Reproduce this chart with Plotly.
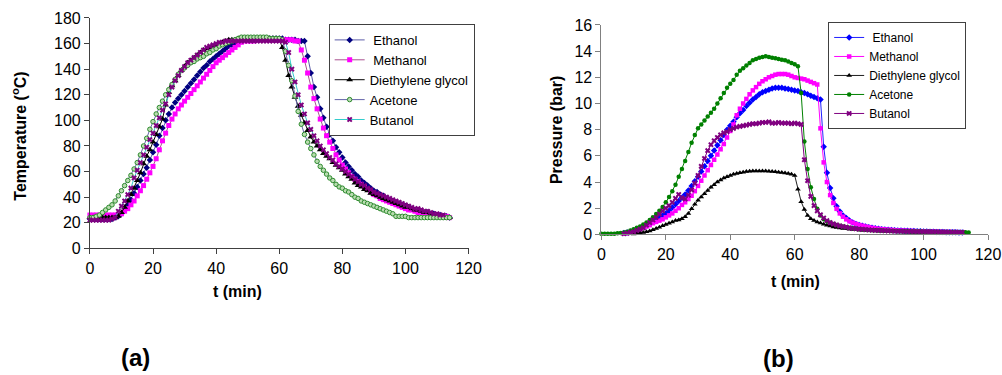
import plotly.graph_objects as go

# ---------------- Data: panel (a) Temperature (°C), sampled every minute ----------------
T_ETHANOL_T0 = 0
T_ETHANOL = [23, 23, 23, 23, 23, 23, 23, 23, 24,
             25, 27, 30, 34, 38, 43, 48, 53, 58, 63, 69,
             75, 81, 88, 94, 100, 105, 110, 114, 117, 120,
             123, 126, 129, 132, 135, 138, 141, 143, 146, 148,
             150, 152, 154, 156, 158, 159, 160, 161, 162, 163,
             163, 164, 164, 164, 164, 164, 164, 164, 164, 164,
             164, 164, 163, 163, 163, 163, 162, 162, 162,
             150, 137, 126, 118, 109, 102, 95, 89, 84, 79, 75,
             71, 67, 64, 61, 58, 56, 53, 51, 49, 47,
             45, 44, 42, 41, 39, 38, 37, 36, 35, 34,
             33, 32, 31, 30, 30, 29, 28, 28, 27, 27, 26, 26, 25, 25, 24]

T_METHANOL_T0 = 0
T_METHANOL = [26, 26, 26, 26, 26, 26, 26, 26, 26, 26,
              27, 29, 31, 34, 37, 41, 45, 49, 54, 59,
              64, 70, 77, 84, 90, 96, 101, 105, 109, 112,
              115, 118, 121, 124, 127, 130, 133, 136, 139, 142,
              145, 147, 149, 151, 153, 155, 157, 159, 161, 162,
              162, 162, 162, 163, 163, 163, 163, 163, 163, 163,
              163, 163, 163, 163, 163, 162, 162,
              155, 147, 137, 126, 117, 109, 101, 94, 88, 83,
              78, 73, 69, 65, 62, 59, 56, 54, 52, 50,
              48, 46, 44, 42, 41, 39, 38, 37, 36, 35,
              34, 33, 32, 31, 30, 30, 29, 28, 28, 27, 27, 26, 26, 26, 25, 25, 25, 24]

T_DEG_T0 = 0
T_DEG = [24, 24, 24, 24, 24, 24, 24, 24, 24,
         25, 28, 32, 37, 42, 47, 53, 59, 66, 72, 77,
         83, 89, 95, 101, 112, 122, 127, 131, 135, 139,
         142, 145, 147, 149, 151, 153, 155, 156, 157, 158,
         159, 160, 161, 162, 163, 163, 163, 164, 164, 164,
         164, 164, 164, 164, 164, 164, 164, 164, 164, 164,
         163,
         157, 147, 135, 126, 118, 111, 104, 98, 92, 87,
         83, 80, 77, 74, 72, 70, 67, 65, 63, 61,
         58, 56, 54, 51, 49, 48, 46, 45, 43, 42,
         41, 40, 39, 38, 37, 36, 35, 34, 33, 32,
         32, 31, 30, 30, 29, 28, 28, 27, 26, 26, 25, 25, 24, 24]

T_ACETONE_T0 = 0
T_ACETONE = [24, 24, 25, 26, 28, 30, 32, 34, 37, 41,
             45, 49, 53, 57, 62, 67, 73, 80, 86, 93,
             99, 105, 110, 115, 120,
             124, 128, 132, 136, 139, 141, 143, 145, 146, 148,
             149, 150, 152, 153, 155, 156, 158, 159, 160, 161,
             162, 163, 164, 165, 165, 165, 165, 165, 165, 165,
             165, 165, 164, 164, 164, 164, 163,
             154, 143, 131, 119, 107, 97, 89, 83, 78, 73,
             68, 64, 61, 58, 55, 53, 50, 48, 47, 45,
             44, 42, 40, 39, 37, 36, 35, 34, 33, 32,
             31, 30, 29, 28, 27, 25, 25, 25, 25, 24,
             24, 24, 24, 24, 24, 24, 24, 24, 24, 24, 24, 24, 24]

T_BUTANOL_T0 = 0
T_BUTANOL = [22, 22, 22, 22, 22, 22, 22, 23,
             24, 29, 33, 37, 42, 47, 55, 61, 67, 73,
             79, 85, 90, 96, 102, 108, 113, 120, 126, 131,
             135, 139, 142, 145, 147, 149, 151, 153, 155, 157,
             158, 159, 160, 161, 161, 162, 162, 162, 162, 162,
             162, 162, 162, 162, 162, 162, 162, 162, 162, 162, 162, 162, 162, 162,
             161,
             153, 140, 130, 120, 112, 105, 98, 93, 88, 84,
             80, 77, 74, 71, 69, 66, 64, 62, 60, 58,
             56, 54, 52, 50, 49, 47, 46, 44, 43, 42,
             41, 40, 39, 38, 37, 36, 35, 34, 33, 32, 31, 31, 30, 29, 29, 28, 27, 27, 26, 26]

# ---------------- Data: panel (b) Pressure (bar), sampled every minute ----------------
P_ETHANOL_T0 = 7
P_ETHANOL = [0.10, 0.15, 0.20, 0.30, 0.40, 0.50, 0.60, 0.70, 0.85, 1.00,
             1.15, 1.30, 1.45, 1.60, 1.80, 2.05, 2.30, 2.55, 2.80, 3.05,
             3.35, 3.70, 4.05, 4.40, 4.80, 5.20, 5.60, 6.00, 6.40, 6.80,
             7.20, 7.60, 8.00, 8.30, 8.60, 8.95, 9.25, 9.50, 9.80, 10.05,
             10.30, 10.50, 10.70, 10.85, 10.95, 11.05, 11.15, 11.20, 11.20, 11.20,
             11.15, 11.10, 11.05, 11.00, 10.95, 10.85, 10.80, 10.70, 10.60, 10.50, 10.40, 10.30,
             6.70, 4.70, 3.55, 2.75, 2.15, 1.75, 1.45, 1.25, 1.05, 0.90,
             0.80, 0.72, 0.65, 0.60, 0.55, 0.50, 0.46, 0.43, 0.40, 0.38,
             0.36, 0.34, 0.32, 0.30, 0.29, 0.28, 0.27, 0.26, 0.25, 0.24,
             0.23, 0.22, 0.21, 0.20, 0.20, 0.19, 0.18, 0.18, 0.17, 0.17, 0.16, 0.16, 0.15, 0.15]

P_METHANOL_T0 = 7
P_METHANOL = [0.05, 0.10, 0.15, 0.20, 0.30, 0.40, 0.50, 0.60, 0.70, 0.85,
              0.95, 1.05, 1.15, 1.30, 1.45, 1.60, 1.80, 2.00, 2.25, 2.45,
              2.70, 2.95, 3.30, 3.70, 4.10, 4.50, 4.90, 5.30, 5.70, 6.10,
              6.50, 6.90, 7.40, 7.90, 8.40, 9.10, 9.60, 10.00, 10.35, 10.70,
              11.00, 11.25, 11.50, 11.70, 11.85, 12.00, 12.10, 12.20, 12.25, 12.25,
              12.25, 12.20, 12.10, 12.00, 11.95, 11.90, 11.85, 11.75, 11.65, 11.55, 11.45,
              8.10, 5.50, 4.00, 3.00, 2.40, 1.95, 1.60, 1.35, 1.15, 1.00,
              0.90, 0.80, 0.72, 0.66, 0.60, 0.55, 0.50, 0.46, 0.43, 0.40,
              0.38, 0.36, 0.34, 0.32, 0.30, 0.29, 0.28, 0.27, 0.26, 0.25,
              0.24, 0.23, 0.22, 0.21, 0.20, 0.20, 0.19, 0.18, 0.18, 0.17, 0.17, 0.16, 0.16, 0.15, 0.15]

P_DEG_T0 = 10
P_DEG = [0.02, 0.05, 0.10, 0.15, 0.20, 0.25, 0.35, 0.45, 0.55, 0.65,
         0.75, 0.85, 0.95, 1.05, 1.10, 1.20, 1.35, 1.60, 1.95, 2.30,
         2.60, 2.85, 3.10, 3.35, 3.60, 3.80, 4.00, 4.15, 4.30, 4.40,
         4.50, 4.60, 4.65, 4.70, 4.75, 4.80, 4.82, 4.85, 4.85, 4.85,
         4.85, 4.85, 4.82, 4.80, 4.78, 4.75, 4.72, 4.68, 4.65, 4.60, 4.50,
         3.45, 2.50, 1.90, 1.45, 1.20, 1.05, 0.95, 0.87, 0.78, 0.70,
         0.63, 0.57, 0.52, 0.48, 0.45, 0.42, 0.40, 0.38, 0.36, 0.34,
         0.32, 0.30, 0.29, 0.28, 0.27, 0.26, 0.25, 0.24, 0.23, 0.22,
         0.21, 0.20, 0.20, 0.19, 0.18, 0.18, 0.17, 0.17, 0.16, 0.16]

P_ACETONE_T0 = 0
P_ACETONE = [0.05, 0.05, 0.05, 0.05, 0.05, 0.08, 0.10, 0.15, 0.20, 0.30,
             0.40, 0.50, 0.60, 0.75, 0.90, 1.10, 1.30, 1.55, 1.80, 2.10,
             2.45, 2.85, 3.30, 3.80, 4.40, 5.00, 5.60, 6.30, 7.00, 7.60,
             8.10, 8.40, 8.70, 9.00, 9.30, 9.60, 10.00, 10.40, 10.80, 11.20,
             11.50, 11.80, 12.20, 12.50, 12.70, 12.90, 13.10, 13.30, 13.40, 13.50,
             13.55, 13.60, 13.55, 13.50, 13.45, 13.40, 13.35, 13.30, 13.20, 13.10, 13.00, 12.85,
             10.80, 7.10, 5.00, 3.60, 2.70, 1.95, 1.45, 1.15, 1.00, 0.90,
             0.80, 0.72, 0.66, 0.60, 0.55, 0.50, 0.46, 0.43, 0.40, 0.38,
             0.36, 0.34, 0.32, 0.31, 0.30, 0.29, 0.28, 0.27, 0.26, 0.25,
             0.24, 0.24, 0.23, 0.23, 0.22, 0.22, 0.21, 0.21, 0.20, 0.20,
             0.20, 0.19, 0.19, 0.18, 0.18, 0.18, 0.17, 0.17, 0.17, 0.16, 0.16, 0.16, 0.15]

P_BUTANOL_T0 = 7
P_BUTANOL = [0.05, 0.10, 0.15, 0.20, 0.30, 0.40, 0.50, 0.70, 0.90, 1.10,
             1.30, 1.55, 1.80, 2.00, 2.20, 2.45, 2.75, 3.05, 2.80, 2.70,
             3.00, 3.40, 3.90, 4.50, 5.20, 5.80, 6.40, 6.85, 7.15, 7.40,
             7.60, 7.75, 7.85, 8.00, 8.10, 8.20, 8.25, 8.30, 8.35, 8.40,
             8.45, 8.45, 8.50, 8.55, 8.55, 8.60, 8.50, 8.50, 8.55, 8.50,
             8.50, 8.50, 8.45, 8.50, 8.45, 8.40,
             5.70, 4.10, 2.90, 2.20, 1.80, 1.50, 1.25, 1.05, 0.90, 0.80,
             0.72, 0.65, 0.60, 0.55, 0.50, 0.46, 0.43, 0.40, 0.38, 0.36,
             0.34, 0.32, 0.31, 0.30, 0.29, 0.28, 0.27, 0.26, 0.25, 0.24,
             0.24, 0.23, 0.23, 0.22, 0.22, 0.21, 0.21, 0.20, 0.20, 0.20,
             0.19, 0.19, 0.18, 0.18, 0.18, 0.17, 0.17, 0.17, 0.16, 0.16]

NAMES = ["\u00a0Ethanol", "\u00a0Methanol", "Diethylene glycol", "Acetone", "Butanol"]
NAMES_B = ["\u00a0Ethanol", "Methanol", "Diethylene glycol", "Acetone", "Butanol"]

FONT = "Liberation Sans, Arial, sans-serif"
W, H = 1002, 375
# The photographed page is inset/scaled slightly; map target pixel positions
# (measured on the reference) to paper fractions accordingly.
INSET_X, INSET_Y = 3, 8
PW, PH = W - 16, H - 16


def fx(px):
    return (px - INSET_X) / PW


def fy(py):
    return 1 - (py - INSET_Y) / PH


fig = go.Figure()

# panel (a) styles: (line colour, marker)
style_a = [
    ("#5c5ca8", dict(symbol="diamond", size=5, color="#000080")),
    ("#a8508f", dict(symbol="square", size=5, color="#ff00ff")),
    ("#000000", dict(symbol="triangle-up", size=6, color="#000000")),
    ("#6464a8", dict(symbol="circle", size=4.5, color="#b9dcb0", line=dict(color="#2e8b2e", width=1))),
    ("#33cccc", dict(symbol="x", size=5, color="#800080", line=dict(color="#800080", width=0))),
]
data_a = [(T_ETHANOL_T0, T_ETHANOL), (T_METHANOL_T0, T_METHANOL), (T_DEG_T0, T_DEG),
          (T_ACETONE_T0, T_ACETONE), (T_BUTANOL_T0, T_BUTANOL)]

for name, (t0, vals), (lc, mk) in zip(NAMES, data_a, style_a):
    fig.add_trace(go.Scatter(
        x=list(range(t0, t0 + len(vals))), y=vals, name=name,
        mode="lines+markers", line=dict(color=lc, width=1), marker=mk,
        xaxis="x", yaxis="y", legend="legend", cliponaxis=False))

style_b = [
    ("#2020ff", dict(symbol="diamond", size=5, color="#0000ff")),
    ("#ff00ff", dict(symbol="square", size=4.5, color="#ff00ff")),
    ("#202020", dict(symbol="triangle-up", size=5, color="#000000")),
    ("#008000", dict(symbol="circle", size=4.5, color="#008000")),
    ("#800080", dict(symbol="x", size=5, color="#800080", line=dict(width=0))),
]
data_b = [(P_ETHANOL_T0, P_ETHANOL), (P_METHANOL_T0, P_METHANOL), (P_DEG_T0, P_DEG),
          (P_ACETONE_T0, P_ACETONE), (P_BUTANOL_T0, P_BUTANOL)]

for name, (t0, vals), (lc, mk) in zip(NAMES_B, data_b, style_b):
    fig.add_trace(go.Scatter(
        x=list(range(t0, t0 + len(vals))), y=vals, name=name,
        mode="lines+markers", line=dict(color=lc, width=1), marker=mk,
        xaxis="x2", yaxis="y2", legend="legend2", cliponaxis=False))

axis_common = dict(showgrid=False, zeroline=False, showline=True, ticks="outside",
                   ticklen=5, tickfont=dict(family=FONT, size=16, color="#000"))

legend_common = dict(xanchor="left", yanchor="top", bordercolor="#404040", borderwidth=1,
                     bgcolor="white", itemwidth=30, tracegroupgap=0)

fig.update_layout(
    width=W, height=H, margin=dict(l=0, r=0, t=0, b=0),
    paper_bgcolor="white", plot_bgcolor="white",
    font=dict(family=FONT, color="#000"),
    xaxis=dict(domain=[fx(89), fx(468)], range=[0, 120], dtick=20, anchor="y",
               linecolor="#404040", tickcolor="#404040", **axis_common),
    yaxis=dict(domain=[fy(249), fy(18)], range=[0, 180], dtick=20, anchor="x",
               linecolor="#404040", tickcolor="#404040", **axis_common),
    xaxis2=dict(domain=[fx(601), fx(988)], range=[0, 120], dtick=20, anchor="y2",
                linecolor="#808080", tickcolor="#808080", **axis_common),
    yaxis2=dict(domain=[fy(235), fy(25)], range=[0, 16], dtick=2, anchor="x2",
                linecolor="#808080", tickcolor="#808080", **axis_common),
    legend=dict(x=fx(328), y=fy(24), font=dict(family=FONT, size=13, color="#000"),
                **legend_common),
    legend2=dict(x=fx(828), y=fy(22), font=dict(family=FONT, size=12, color="#000"),
                 **legend_common),
    showlegend=True,
)

ann_font = dict(family=FONT, size=16, color="#000")
big_font = dict(family=FONT, size=24, color="#000")
annotations = [
    dict(text="<b>Temperature (<sup>o</sup>C)</b>", x=fx(18), y=fy(136), textangle=-90, font=ann_font),
    dict(text="<b>t (min)</b>", x=fx(237), y=fy(292), font=ann_font),
    dict(text="<b>Pressure (bar)</b>", x=fx(556), y=fy(130), textangle=-90, font=ann_font),
    dict(text="<b>t (min)</b>", x=fx(795), y=fy(282), font=ann_font),
    dict(text="<b>(a)</b>", x=fx(135), y=fy(358), font=big_font),
    dict(text="<b>(b)</b>", x=fx(778), y=fy(359), font=big_font),
]
for a in annotations:
    fig.add_annotation(xref="paper", yref="paper", showarrow=False,
                       xanchor="center", yanchor="middle", **a)

fig.write_html("out.html")
